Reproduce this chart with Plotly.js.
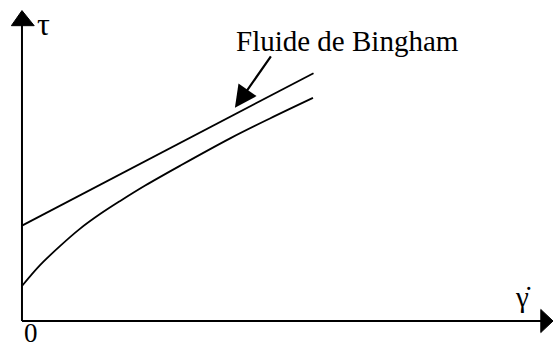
<!DOCTYPE html>
<html>
<head>
<meta charset="utf-8">
<script src="https://cdn.plot.ly/plotly-3.0.1.min.js"></script>
<style>html,body{margin:0;padding:0;background:#fff;}#chart{width:553px;height:349px;}</style>
</head>
<body>
<div id="chart"></div>
<script>
// Bingham fluid: straight line with yield stress
const binghamX = [0, 5.49];
const binghamY = [2.97, 7.72];
// Real (pseudo-plastic with yield) curve
const curveX = [0, 0.34, 0.72, 1.09, 1.47, 1.85, 2.32, 2.98, 3.92, 4.67, 5.48];
const curveY = [1.09, 1.74, 2.34, 2.87, 3.33, 3.74, 4.22, 4.84, 5.69, 6.31, 6.95];
// Labels
const yLabel = "τ";
const xLabel = "γ̇";
const originLabel = "0";
const binghamLabel = "Fluide de Bingham";

const serif = "Liberation Serif, Times New Roman, serif";

const traces = [
  {x: binghamX, y: binghamY, mode: "lines", line: {color: "#000", width: 1.8}, hoverinfo: "skip"},
  {x: curveX, y: curveY, mode: "lines", line: {color: "#000", width: 1.8, shape: "spline", smoothing: 1}, hoverinfo: "skip"}
];

const layout = {
  width: 553, height: 349,
  margin: {l: 0, r: 0, t: 0, b: 0},
  paper_bgcolor: "#fff", plot_bgcolor: "#fff",
  showlegend: false,
  xaxis: {range: [-0.414, 10], visible: false, fixedrange: true},
  yaxis: {range: [-0.872, 10], visible: false, fixedrange: true},
  shapes: [
    {type: "line", xref: "x", yref: "y", x0: 0, y0: 0, x1: 0, y1: 9.25, line: {color: "#000", width: 2}},
    {type: "line", xref: "x", yref: "y", x0: 0, y0: 0, x1: 9.8, y1: 0, line: {color: "#000", width: 2}},
    {type: "path", xref: "x", yref: "y", path: "M -0.2,9.2 L 0.23,9.2 L 0,9.67 Z", fillcolor: "#000", line: {color: "#000", width: 1}},
    {type: "path", xref: "x", yref: "y", path: "M 9.77,0.36 L 9.77,-0.36 L 10.0,0 Z", fillcolor: "#000", line: {color: "#000", width: 1}}
  ],
  annotations: [
    {x: 4.01, y: 6.64, xref: "x", yref: "y", ax: 37, ay: -53, text: "", showarrow: true,
     arrowhead: 2, arrowsize: 2, arrowwidth: 2.2, arrowcolor: "#000", standoff: 0},
    {x: 4.0, y: 8.72, xref: "x", yref: "y", text: binghamLabel, showarrow: false,
     xanchor: "left", yanchor: "middle", font: {family: serif, size: 29, color: "#000"}},
    {x: (44 - 22) / 53.1, y: (321 - 24) / 32.1, xref: "x", yref: "y", text: yLabel, showarrow: false,
     xanchor: "center", yanchor: "middle", font: {family: serif, size: 32, color: "#000"}},
    {x: (523 - 22) / 53.1, y: (321 - 297) / 32.1, xref: "x", yref: "y", text: xLabel, showarrow: false,
     xanchor: "center", yanchor: "middle", font: {family: serif, size: 29, color: "#000"}},
    {x: (31 - 22) / 53.1, y: -0.872, xref: "x", yref: "y", text: originLabel, showarrow: false,
     xanchor: "center", yanchor: "bottom", borderpad: 0, font: {family: serif, size: 27, color: "#000"}}
  ]
};

Plotly.newPlot("chart", traces, layout, {staticPlot: true, displayModeBar: false});
</script>
</body>
</html>
